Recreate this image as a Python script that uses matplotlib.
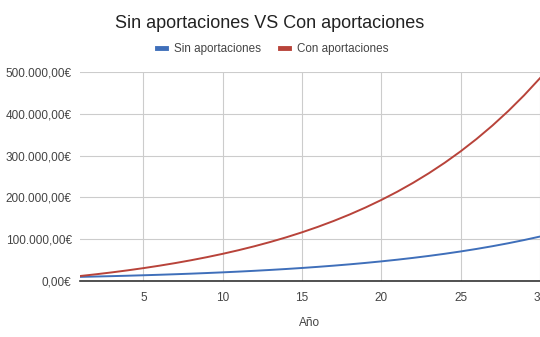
import matplotlib.pyplot as plt
from matplotlib.ticker import FuncFormatter

plt.rcParams['font.family'] = ['Liberation Sans', 'DejaVu Sans']

years = list(range(1, 31))
sin_aport = [10000, 10850, 11770, 12770, 13860, 15040, 16320, 17700, 19210, 20840,
             22610, 24530, 26620, 28880, 31330, 34000, 36890, 40020, 43430, 47120,
             51120, 55470, 60180, 65300, 70850, 76870, 83400, 90490, 98180, 106530]
con_aport = [12000, 16170, 20690, 25600, 30930, 36710, 42980, 49780, 57160, 65170,
             73860, 83290, 93520, 104620, 116660, 129730, 143900, 159290, 175980, 194080,
             213730, 235050, 258180, 283270, 310500, 340040, 372090, 406870, 444610, 485550]
y_ticks = [0, 100000, 200000, 300000, 400000, 500000]
x_ticks = [5, 10, 15, 20, 25, 30]


def euro(v, pos=None):
    s = f"{v:,.2f}".replace(",", "X").replace(".", ",").replace("X", ".")
    return s + "€"


fig = plt.figure(figsize=(5.4, 3.37), dpi=100)
ax = fig.add_axes([0.148, 0.166, 0.852, 0.62])

ax.plot(years, sin_aport, color='#3f6fba', lw=1.4, label='Sin aportaciones')
ax.plot(years, con_aport, color='#b8433a', lw=1.4, label='Con aportaciones')

ax.set_xlim(1, 30)
ax.set_ylim(0, 500000)
ax.set_xticks(x_ticks)
ax.set_yticks(y_ticks)
ax.yaxis.set_major_formatter(FuncFormatter(euro))
ax.grid(True, color='#cccccc', lw=0.8)
ax.set_axisbelow(True)
for s in ['top', 'right', 'left']:
    ax.spines[s].set_visible(False)
ax.spines['bottom'].set_color('#333333')
ax.spines['bottom'].set_linewidth(1.2)
ax.tick_params(length=0, labelsize=8.5, colors='#444444', pad=6)
ax.tick_params(axis='x', pad=8)
ax.set_xlabel('Año', fontsize=8.5, color='#444444', labelpad=9)

fig.suptitle('Sin aportaciones VS Con aportaciones', fontsize=13, color='#222222', y=0.955)
fig.legend(loc='center', bbox_to_anchor=(0.505, 0.855), ncol=2, frameon=False,
           fontsize=8.4, handlelength=0.75, handletextpad=0.7, columnspacing=1.6,
           labelcolor='#444444')
for h in fig.legends[0].get_lines():
    h.set_linewidth(3.5)

fig.savefig('out.png', dpi=100)
